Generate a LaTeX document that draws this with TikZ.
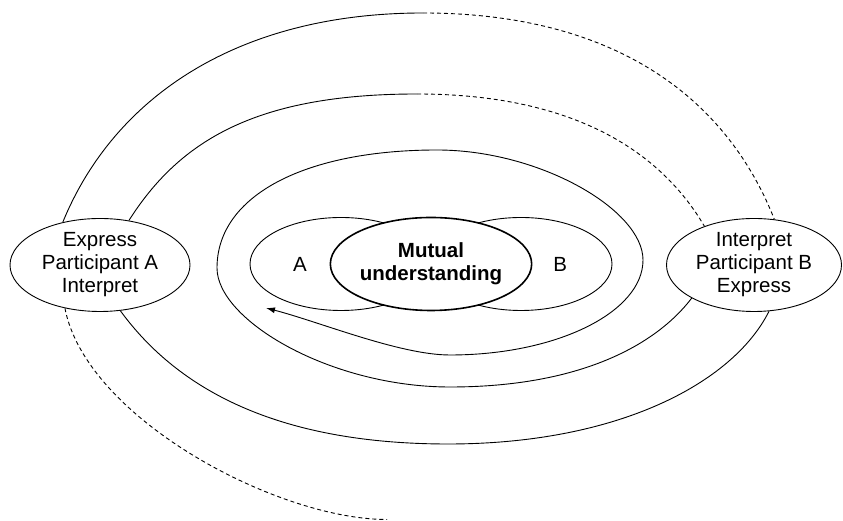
\documentclass[tikz,border=0pt]{standalone}
\usepackage{fontspec}
\setmainfont{Liberation Sans}
\usetikzlibrary{shapes.geometric,arrows.meta}

\begin{document}
\begin{tikzpicture}[x=1pt,y=1pt,
  oval/.style={draw, ellipse, fill=white, line width=0.9pt, inner sep=0pt,
    minimum height=93pt, align=center, font=\fontsize{20.5}{23}\selectfont},
  spiral/.style={line width=0.9pt},
  faint/.style={line width=0.9pt, dash pattern=on 4pt off 3pt}]
  \useasboundingbox (0,0) rectangle (843,521);
  \node[oval, minimum width=182pt, text width=96pt, align=left] (a) at (341,257) {A};
  \node[oval, minimum width=182pt, text width=92pt, align=right] (b) at (521,257) {B};
  \node[oval, minimum width=183pt, line width=1.6pt] (mu) at (431,257) {\bfseries Mutual\\\bfseries understanding};
  \node[oval, minimum width=180pt] (pA) at (100,256) {Express\\Participant A\\Interpret};
  \node[oval, minimum width=175pt] (pB) at (754,256) {Interpret\\Participant B\\Express};

  \coordinate (tail) at (387,1.5);
  \coordinate (top1) at (423,508);
  \coordinate (top2) at (417,427);
  \coordinate (tip) at (266,213);

  \draw[faint] (pA.-129) .. controls (86,103) and (277,1.5) .. (tail);
  \draw[spiral] (pA.131) .. controls (114,424) and (238,508) .. (top1);
   \draw[faint] (top1) .. controls (608,508) and (724,429) .. (pB.66);
  \draw[spiral] (pB.-72) .. controls (733,138) and (618,77) .. (448,77)
    .. controls (268,77) and (173,138) .. (pA.-66);
  \draw[spiral] (pA.57) .. controls (180,381) and (257,427) .. (top2);
   \draw[faint] (top2) .. controls (567,427) and (658,374) .. (pB.142);
  \draw[spiral, -{Latex[length=9pt,width=6pt]}] (pB.-152)
    .. controls (656,176) and (580,134) .. (450,134)
    .. controls (330,134) and (217,201) .. (217,253)
    .. controls (217,326) and (306,371) .. (437,371)
    .. controls (540,371) and (643,311) .. (643,261)
    .. controls (643,209) and (557,166) .. (450,166)
    .. controls (400,166) and (320,199) .. (tip);
\end{tikzpicture}
\end{document}
